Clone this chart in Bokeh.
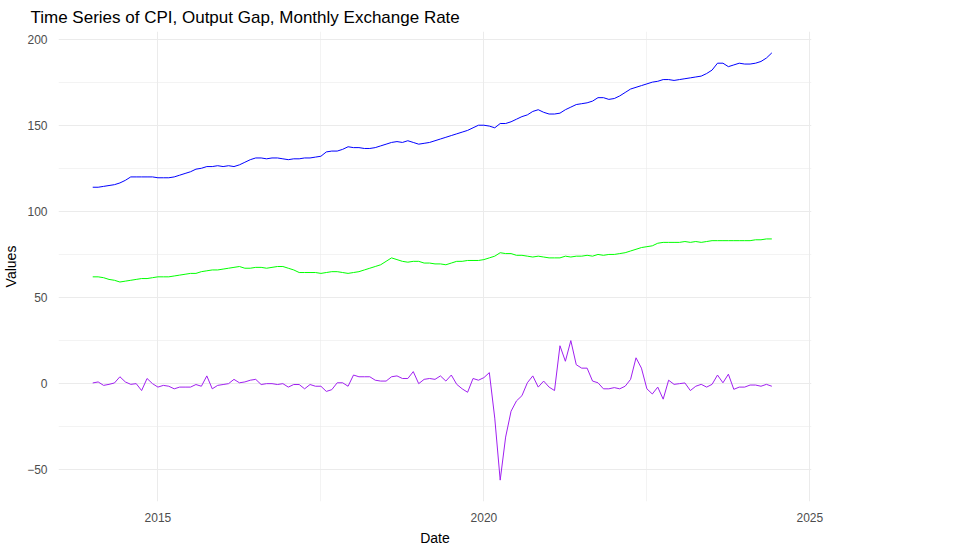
import numpy as np
from bokeh.plotting import figure
from bokeh.models import Legend, LegendItem, FixedTicker, Range1d
from bokeh.embed import file_html
from bokeh.resources import INLINE

start_year = 2014
cpi = [114,114,114.5,115,115.5,116.5,118,120,120,120,120,120,
       119.5,119.5,119.5,120,121,122,123,124.5,125,126,126,126.5,
       126,126.5,126,127,128.5,130,131,131,130.5,131,131,130.5,
       130,130.5,130.5,131,131,131.5,132,134.5,135,135,136,137.5,
       137,137,136.5,136.5,137,138,139,140,140.5,140,141,140,
       139,139.5,140,141,142,143,144,145,146,147,148.5,150,
       150,149.5,148.5,151,151,152,153.5,155,156,158,159,157.5,
       156.5,156.5,157,159,160.5,162,162.5,163,164,166,166,165,
       165.5,167,169,171,172,173,174,175,175.5,176.5,176.5,176,
       176.5,177,177.5,178,178.5,180,182,186,186,184,185,186,
       185.5,185.5,186,187,189,192]
fx = [62,62,61.5,60.5,60,59,59.5,60,60.5,61,61,61.5,
      62,62,62,62.5,63,63.5,64,64,65,65.5,66,66,
      66.5,67,67.5,68,67,67,67.5,67.5,67,67.5,68,68,
      67,66,64.5,64.5,64.5,64.5,64,64.5,65,65,64.5,64,
      64.5,65,66,67,68,69,71,73,72,71,70.5,71,
      71,70,70,69.5,69.5,69,70,71,71,71.5,71.5,71.5,
      72,73,74,76,75.5,75.5,74.5,74.5,74,73.5,74,73.5,
      73,73,73,74,73.5,74,74,74.5,74,75,74.5,75,
      75,75.5,76,77,78,79,79.5,80,81.5,82,82,82,
      82,82.5,82,82.5,82,82.5,83,83,83,83,83,83,
      83,83,83.5,83.5,84,84]
gap = [0.4,1,-1,-0.4,0.4,4,1,-0.4,0,-4,3,0,
       -2,-1,-1.5,-3,-2,-2,-2,-0.5,-1.5,4.5,-3,-1,
       -0.5,0,2.5,0.5,1,2,2.5,-0.5,0,0,-0.5,0,
       -2,-0.5,-0.5,-3,-0.5,-1.5,-1.5,-4.5,-3.5,0.5,0.5,-1.5,
       5,4,4,4,2,1.5,1.5,4,4.5,3,3,7,
       0,2.5,3,2.5,4.5,1.5,5,-0.4,-3,-5,3,2,
       3.5,6.4,-20,-56,-31,-16,-10,-7,0.5,4.5,-2,1.5,
       -2,-4,22,13,25,11,9,9,1.5,0.5,-3,-3,
       -2.3,-3,-1.5,2.5,15,9,-3,-6,-2,-9,2,-0.4,
       0,0.4,-4,-1.5,-0.4,-2,-0.4,5,0.5,5.5,-3.3,-2,
       -2,-0.8,-0.8,-1.5,-0.4,-1.5]

t = start_year + np.arange(len(cpi)) / 12.0

p = figure(frame_width=753, frame_height=470, output_backend="svg", toolbar_location=None,
           title="Time Series of CPI, Output Gap, Monthly Exchange Rate",
           x_range=Range1d(2013.475, 2025.025), y_range=Range1d(-68.4, 204.4),
           min_border_left=47, min_border_top=26, min_border_bottom=37, min_border_right=0)
p.title.text_font = "Liberation Sans"
p.title.text_font_size = "17px"
p.title.text_font_style = "normal"
p.title.text_color = "black"
p.title.offset = -28
p.outline_line_color = None
for ax in (p.xaxis[0], p.yaxis[0]):
    ax.axis_line_color = None
    ax.major_tick_line_color = None
    ax.minor_tick_line_color = None
    ax.major_label_text_color = "#4d4d4d"
    ax.major_label_text_font = "Liberation Sans"
    ax.major_label_text_font_size = "12px"
    ax.axis_label_text_font = "Liberation Sans"
    ax.axis_label_text_font_size = "14px"
    ax.axis_label_text_font_style = "normal"
    ax.axis_label_text_color = "black"
p.xaxis.axis_label = "Date"
p.yaxis.axis_label = "Values"
p.xaxis.ticker = FixedTicker(ticks=[2015, 2020, 2025], minor_ticks=[2012.5, 2017.5, 2022.5])
p.yaxis.ticker = FixedTicker(ticks=[-50, 0, 50, 100, 150, 200], minor_ticks=[-75, -25, 25, 75, 125, 175])
p.xaxis.major_label_overrides = {2015: "2015", 2020: "2020", 2025: "2025"}
for g in (p.xgrid[0], p.ygrid[0]):
    g.grid_line_color = "#ebebeb"
    g.minor_grid_line_color = "#ebebeb"
    g.minor_grid_line_width = 0.6

r1 = p.line(t, cpi, color="blue", line_width=1)
r2 = p.line(t, fx, color="#00ff00", line_width=1)
r3 = p.line(t, gap, color="#a020f0", line_width=1)

leg = Legend(items=[LegendItem(label="CPI", renderers=[r1]),
                    LegendItem(label="Exchange Rate", renderers=[r2]),
                    LegendItem(label="Output Gap", renderers=[r3])],
             title="Legend", location="center", border_line_color=None,
             background_fill_alpha=0, label_text_font="Liberation Sans",
             label_text_font_size="12px", title_text_font="Liberation Sans",
             title_text_font_size="14px", title_text_font_style="normal",
             glyph_width=20, label_standoff=8, spacing=4, margin=16)
p.add_layout(leg, "right")

open("out.html", "w").write(file_html(p, INLINE))
